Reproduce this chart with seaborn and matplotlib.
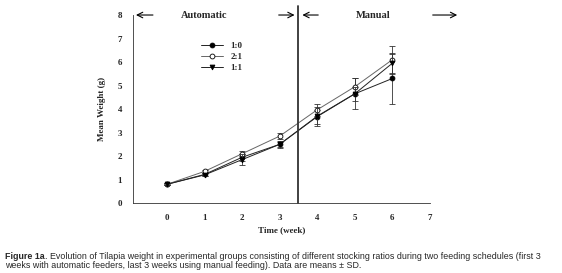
import numpy as np
import pandas as pd
import matplotlib.pyplot as plt
import seaborn as sns

weeks = [0, 1, 2, 3, 4, 5, 6]
groups = ['1:0', '2:1', '1:1']
w_10 = [0.80, 1.22, 1.95, 2.50, 3.68, 4.65, 5.30]
sd_10 = [0.05, 0.08, 0.15, 0.12, 0.30, 0.65, 1.10]
w_21 = [0.80, 1.35, 2.10, 2.85, 3.97, 4.95, 6.10]
sd_21 = [0.05, 0.06, 0.10, 0.12, 0.25, 0.35, 0.60]
w_11 = [0.80, 1.20, 1.85, 2.50, 3.70, 4.65, 5.95]
sd_11 = [0.05, 0.06, 0.22, 0.15, 0.40, 0.30, 0.40]

df = pd.DataFrame({
    'week': weeks * 3,
    'weight': w_10 + w_21 + w_11,
    'sd': sd_10 + sd_21 + sd_11,
    'group': [g for g in groups for _ in weeks],
})

sns.set_style('white')
plt.rcParams['font.family'] = ['Liberation Serif', 'DejaVu Serif']

fig = plt.figure(figsize=(5.62, 2.73), dpi=100)
ax = fig.add_axes([0.237, 0.256, 0.528, 0.689])

markers = {'1:0': 'o', '2:1': 'o', '1:1': 'v'}
faces = {'1:0': 'black', '2:1': 'white', '1:1': 'black'}
lcols = {'1:0': '#222222', '2:1': '#666666', '1:1': '#222222'}

for g in groups:
    d = df[df['group'] == g]
    ax.errorbar(d['week'], d['weight'], yerr=d['sd'], fmt='none', ecolor='#333333',
                elinewidth=0.6, capsize=2.5, capthick=0.6)
    sns.lineplot(x='week', y='weight', data=d, ax=ax, color=lcols[g], lw=0.7,
                 marker=markers[g], markersize=3.5, markerfacecolor=faces[g],
                 markeredgecolor='black', markeredgewidth=0.6, label=g)

ax.set_xlim(-0.9, 7)
ax.set_ylim(0, 8)
ax.set_xticks(range(0, 8))
ax.set_yticks(range(0, 9))
ax.tick_params(axis='both', direction='out', length=3, width=0.6, labelsize=6.5, pad=5)
for lab in ax.get_xticklabels() + ax.get_yticklabels():
    lab.set_fontweight('bold')
sns.despine(ax=ax)
for s in ['left', 'bottom']:
    ax.spines[s].set_linewidth(0.6)
    ax.spines[s].set_color('#333333')

ax.set_xlabel('Time (week)', fontsize=6.5, fontweight='bold', labelpad=3)
ax.set_ylabel('Mean Weight (g)', fontsize=6.5, fontweight='bold', labelpad=8)

# feeding schedule divider
ax.axvline(3.5, ymin=0, ymax=1.05, color='#333333', lw=1.3, clip_on=False)

# schedule annotations
arrow = dict(arrowstyle='->', lw=0.8, color='black')
ax.annotate('', xy=(-0.9, 8), xytext=(-0.3, 8), arrowprops=arrow, annotation_clip=False)
ax.annotate('', xy=(3.47, 8), xytext=(2.9, 8), arrowprops=arrow, annotation_clip=False)
ax.annotate('', xy=(3.53, 8), xytext=(4.1, 8), arrowprops=arrow, annotation_clip=False)
ax.annotate('', xy=(7.8, 8), xytext=(7.0, 8), arrowprops=arrow, annotation_clip=False)
ax.text(1.0, 8, 'Automatic', fontsize=7.5, fontweight='bold', ha='center', va='center')
ax.text(5.5, 8, 'Manual', fontsize=7.5, fontweight='bold', ha='center', va='center')

leg = ax.legend(loc='upper left', bbox_to_anchor=(0.2, 0.9), frameon=False, fontsize=6.5,
                handlelength=2.5, labelspacing=0.3)
for t in leg.get_texts():
    t.set_fontweight('bold')

# caption
line1 = ('. Evolution of Tilapia weight in experimental groups consisting of different stocking '
         'ratios during two feeding schedules (first 3')
line2 = 'weeks with automatic feeders, last 3 weeks using manual feeding). Data are means \u00b1 SD.'
t0 = fig.text(0.009, 0.051, 'Figure 1a', fontsize=6.4, fontweight='bold',
              family='Liberation Sans', va='baseline')
fig.canvas.draw()
bb = t0.get_window_extent().transformed(fig.transFigure.inverted())
fig.text(bb.x1, 0.051, line1, fontsize=6.4, family='Liberation Sans', va='baseline')
fig.text(0.009, 0.018, line2, fontsize=6.4, family='Liberation Sans', va='baseline')

fig.savefig('out.png', dpi=100)
